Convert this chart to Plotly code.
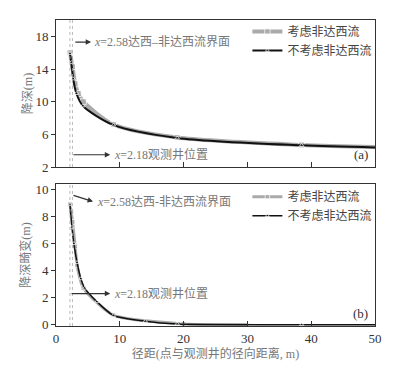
import plotly.graph_objects as go

# ---- data ----
# panel (a): drawdown (m)
r_a_nd = [2.18, 2.58, 3.0, 3.5, 4.3, 9.0, 19.0, 38.5, 50]
s_a_nd = [16.0, 14.3, 12.2, 11.0, 10.0, 7.2, 5.6, 4.7, 4.45]
r_a_d = [2.18, 2.4, 2.7, 3.2, 4.2, 9.0, 19.0, 38.5, 50]
s_a_d = [15.9, 14.8, 12.8, 11.0, 9.5, 7.15, 5.55, 4.65, 4.4]
# panel (b): drawdown distortion (m)
r_b_nd = [2.18, 2.4, 2.6, 3.0, 3.3, 4.3, 9.0, 20, 30]
s_b_nd = [8.9, 8.3, 7.6, 5.8, 4.4, 2.7, 0.7, 0.05, 0.0]
r_b_d = [2.18, 2.5, 2.8, 3.3, 3.9, 4.5, 6.4, 9.0, 14, 19, 38.5, 50]
s_b_d = [8.9, 7.2, 6.0, 4.6, 3.4, 2.7, 1.7, 0.68, 0.25, 0.05, 0.0, 0.0]

name_nd = "考虑非达西流"
name_d = "不考虑非达西流"
yticks_a = [2, 6, 10, 14, 18]
yticks_b = [0, 2, 4, 6, 8, 10]
xticks = [0, 10, 20, 30, 40, 50]
x_well = 2.18
x_iface = 2.58

FONT = "Liberation Serif, Noto Sans CJK SC"
GRAY = "#aaaaaa"
TXT = "#777777"
AX = "#333333"

fig = go.Figure()

def msizes(n, size):
    return [size] * (n - 1) + [0]

# panel a
fig.add_trace(go.Scatter(x=r_a_nd, y=s_a_nd, name=name_nd, mode="lines+markers",
                         line=dict(color=GRAY, width=4, shape="spline", smoothing=0.8),
                         marker=dict(symbol="square", size=msizes(len(r_a_nd), 6), color=GRAY),
                         xaxis="x", yaxis="y", legend="legend"))
fig.add_trace(go.Scatter(x=r_a_d, y=s_a_d, name=name_d, mode="lines+markers",
                         line=dict(color="#111111", width=2, shape="spline", smoothing=0.8),
                         marker=dict(symbol="triangle-up", size=msizes(len(r_a_d), 4), color="#111111"),
                         xaxis="x", yaxis="y", legend="legend"))
# panel b
fig.add_trace(go.Scatter(x=r_b_nd, y=s_b_nd, name=name_nd, mode="lines+markers",
                         line=dict(color=GRAY, width=3, shape="spline", smoothing=0.6),
                         marker=dict(symbol="square", size=msizes(len(r_b_nd), 5), color=GRAY),
                         xaxis="x2", yaxis="y2", legend="legend2"))
fig.add_trace(go.Scatter(x=r_b_d, y=s_b_d, name=name_d, mode="lines+markers",
                         line=dict(color="#111111", width=1.5, shape="spline", smoothing=0.6),
                         marker=dict(symbol="triangle-up", size=msizes(len(r_b_d), 4), color="#111111"),
                         xaxis="x2", yaxis="y2", legend="legend2"))

axcommon = dict(showline=True, mirror=True, linecolor=AX, linewidth=1, showgrid=False,
                zeroline=False, automargin=False,
                tickfont=dict(family=FONT, size=13, color="#333333"))

fig.update_layout(
    width=408, height=369,
    margin=dict(l=56, r=33, t=20, b=43),
    paper_bgcolor="white", plot_bgcolor="white",
    font=dict(family=FONT, color="#333333"),
    xaxis=dict(**axcommon, domain=[0, 1], range=[0, 50], tickvals=xticks, showticklabels=False,
               ticks="inside", ticklen=5, tickcolor=AX, anchor="y"),
    yaxis=dict(**axcommon, domain=[0.5196, 1], range=[2, 20], tickvals=yticks_a,
               ticks="outside", ticklen=4, tickcolor=AX, anchor="x",
               title=dict(text="降深(m)", font=dict(family=FONT, size=12, color=TXT), standoff=0)),
    xaxis2=dict(**axcommon, domain=[0, 1], range=[0, 50], tickvals=xticks,
                ticks="inside", ticklen=5, tickcolor=AX, anchor="y2",
                title=dict(text="径距(点与观测井的径向距离, m)", font=dict(family=FONT, size=12, color=TXT), standoff=4)),
    yaxis2=dict(**axcommon, domain=[0, 0.464], range=[-0.1, 10.4], tickvals=yticks_b,
                ticks="outside", ticklen=4, tickcolor=AX, anchor="x2",
                title=dict(text="降深畸变(m)", font=dict(family=FONT, size=12, color=TXT), standoff=2)),
    legend=dict(x=0.6, y=1.01, xanchor="left", yanchor="top", bgcolor="rgba(0,0,0,0)",
                font=dict(family=FONT, size=12, color="#444444"), itemwidth=30, tracegroupgap=0),
    legend2=dict(x=0.6, y=0.47, xanchor="left", yanchor="top", bgcolor="rgba(0,0,0,0)",
                 font=dict(family=FONT, size=12, color="#444444"), itemwidth=30, tracegroupgap=0),
)

# vertical dotted lines
for xr, yr in (("x", "y"), ("x2", "y2")):
    for xv in (x_well, x_iface):
        fig.add_shape(type="line", xref=xr, yref=yr + " domain", x0=xv, x1=xv, y0=0, y1=1,
                      line=dict(color="#aaaaaa", width=0.8, dash="dot"))

def arrow(xr, yr, x0, y0, x1, y1):
    fig.add_annotation(xref=xr, yref=yr, axref=xr, ayref=yr, x=x1, y=y1, ax=x0, ay=y0,
                       text="", showarrow=True, arrowhead=2, arrowsize=0.9, arrowwidth=1.2,
                       arrowcolor="#333333")

def label(xr, yr, x, y, txt):
    fig.add_annotation(xref=xr, yref=yr, x=x, y=y, text=txt, showarrow=False,
                       xanchor="left", yanchor="middle",
                       font=dict(family=FONT, size=12, color=TXT))

# panel a annotations
arrow("x", "y", 2.8, 17.3, 5.5, 17.3)
label("x", "y", 5.7, 17.3, "<i>x</i>=2.58达西–非达西流界面")
arrow("x", "y", 2.5, 3.5, 8.5, 3.5)
label("x", "y", 8.8, 3.5, "<i>x</i>=2.18观测井位置")
# panel b annotations
arrow("x2", "y2", 2.5, 9.6, 5.8, 9.1)
label("x2", "y2", 6.1, 9.1, "<i>x</i>=2.58达西-非达西流界面")
arrow("x2", "y2", 2.2, 2.3, 8.5, 2.3)
label("x2", "y2", 8.8, 2.3, "<i>x</i>=2.18观测井位置")

# panel tags
fig.add_annotation(xref="x domain", yref="y domain", x=0.985, y=0.02, text="(a)",
                   showarrow=False, xanchor="right", yanchor="bottom",
                   font=dict(family=FONT, size=13, color="#333333"))
fig.add_annotation(xref="x2 domain", yref="y2 domain", x=0.985, y=0.02, text="(b)",
                   showarrow=False, xanchor="right", yanchor="bottom",
                   font=dict(family=FONT, size=13, color="#333333"))

fig.write_html("out.html", config={"displayModeBar": False},
               post_script="document.body.style.margin='0';")
